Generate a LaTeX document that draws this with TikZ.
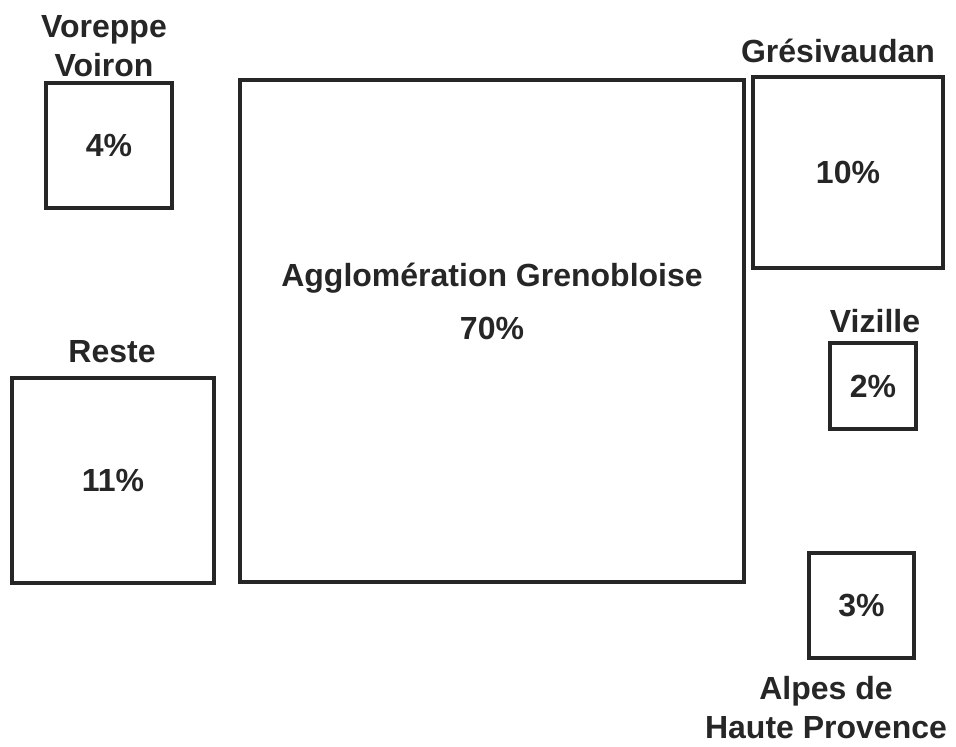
\documentclass[tikz,border=0pt]{standalone}
\usepackage{fontspec}
\setmainfont{Liberation Sans}
\newcommand\zonefont{\bfseries\fontsize{32}{39}\selectfont}
\begin{document}
\begin{tikzpicture}[x=1pt,y=-1pt,
  zone/.style={draw=black!85,line width=3.2pt,inner sep=0pt,font=\zonefont,text=black!85},
  lbl/.style={anchor=base,align=center,inner sep=0pt,font=\zonefont,text=black!85}]
\useasboundingbox (0,0) rectangle (956,747);

% Zones
\node[zone,minimum width=126,minimum height=125] (voiron) at (109,145.5) {4\%};
\node[zone,minimum width=504,minimum height=502] (agglo) at (492,331) {};
\node[zone,minimum width=190,minimum height=191] (gresi) at (848,172.5) {10\%};
\node[zone,minimum width=202,minimum height=205] (reste) at (113,480.5) {11\%};
\node[zone,minimum width=86,minimum height=86] (vizille) at (873,386) {2\%};
\node[zone,minimum width=105,minimum height=105] (alpes) at (861.5,605.5) {3\%};

% Names (base = last line)
\node[lbl] (voironlbl) at (104,76) {Voreppe\\Voiron};
\node[lbl,font={\bfseries\fontsize{32}{53}\selectfont}] (agglolbl) at (492,339) {Agglomération Grenobloise\\70\%};
\node[lbl] (gresilbl) at (838,62) {Grésivaudan};
\node[lbl] (restelbl) at (112,362) {Reste};
\node[lbl] (vizillelbl) at (875,332) {Vizille};
\node[lbl] (alpeslbl) at (826,738) {Alpes de\\Haute Provence};
\end{tikzpicture}
\end{document}
